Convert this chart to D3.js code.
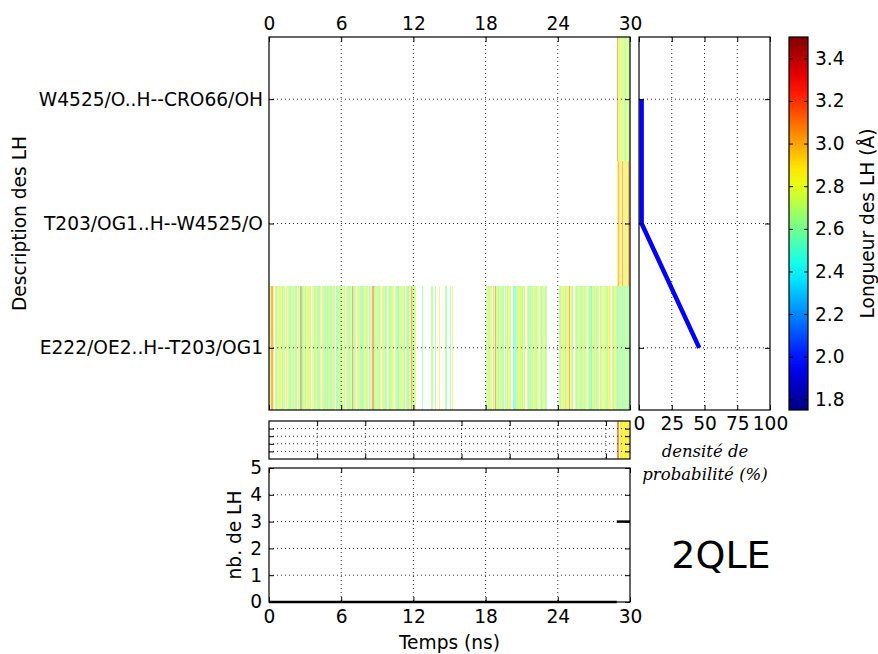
<!DOCTYPE html>
<html><head><meta charset="utf-8">
<script src="https://cdn.jsdelivr.net/npm/d3@7"></script>
<style>body{margin:0;background:#fff}</style>
</head><body>
<svg id="c" width="878" height="654" xmlns="http://www.w3.org/2000/svg"></svg>
<script>
// ---------------- data ----------------
const hbondLabels = ["W4525/O..H--CRO66/OH", "T203/OG1..H--W4525/O", "E222/OE2..H--T203/OG1"]; // top to bottom
const timeTicks = [0, 6, 12, 18, 24, 30];
const stripTimeTicks = [4, 8, 12, 16, 20, 24, 28];
const stripRowTicks = [1, 2, 3, 4];
const countTicks = [0, 1, 2, 3, 4, 5];
const densityTicks = [0, 25, 50, 75, 100];
const colorTicks = [1.8, 2.0, 2.2, 2.4, 2.6, 2.8, 3.0, 3.2, 3.4];
const colorDomain = [1.75, 3.5];
const frameStep = 0.1; // ns per frame
// letter code -> H-bond length (Å)
const lengthCodes = {m: 2.55, g: 2.6, l: 2.68, y: 2.78, Y: 2.88, o: 3.1};
// E222 row, one string per ns (10 frames each); "." = no H-bond
const e222Frames = [
  "lyoY.lgylY","ygl.Yylgyl","lYg.lyogly","gylYl.yglY","lgy.Ylgyml",
  "yglYl.gylg","lyg.lYglyo","gl.ylYgmly","Yl.gyloglY","lgy.Ylgl.y",
  "glYy.lgmyl","ylg.Yglyog","lY.....g..",".....l..g.",".Y....lg..",
  "g.y.......","..........","..........","lyglY.gyol","gYlyg.lYgy",
  "l..mmlgYly","gyl.Yglmly","Ylgy.lglyg","l.........",".lgYlyglYo",
  "ylg.Yglylg","lYgy.lgmlY","gylY.glyYl","lgYy.lgYlm","lglmlgllml"
];
const lateStartFrame = 289;
const t203Frames = "YoYYoYlYYoY";
const w4525Frames = "oYlylylgyll";
const stripFrames = "oo.YYyYYYY.";
const densityValues = [2, 2, 46]; // % for hbondLabels order
const countSegments = [[0, 28.9, 0], [28.9, 30, 3]]; // [t start, t end, nb]

// ---------------- helpers ----------------
const FS = 18.6;
const svg = d3.select("#c");
function jet(v) {
  const x = Math.max(0, Math.min(1, (v - colorDomain[0]) / (colorDomain[1] - colorDomain[0])));
  const c = f => Math.round(255 * Math.max(0, Math.min(1, f)));
  return `rgb(${c(1.5 - Math.abs(4 * x - 3))},${c(1.5 - Math.abs(4 * x - 2))},${c(1.5 - Math.abs(4 * x - 1))})`;
}
function styleAxis(g) {
  g.select(".domain").remove();
  g.attr("font-family", "DejaVu Sans").attr("font-size", FS);
  g.selectAll("line").attr("stroke", "#000").attr("stroke-width", 1);
  g.selectAll("text").attr("fill", "#000");
  return g;
}
function addAxis(axis, tx, ty) {
  return styleAxis(svg.append("g").attr("transform", `translate(${tx},${ty})`).call(axis));
}
function frame(x0, y0, x1, y1) {
  svg.append("rect").attr("x", x0).attr("y", y0).attr("width", x1 - x0).attr("height", y1 - y0)
    .attr("fill", "none").attr("stroke", "#000").attr("stroke-width", 1.2);
}
function vgrid(scale, vals, y0, y1) {
  svg.append("g").selectAll("line").data(vals).join("line")
    .attr("x1", d => scale(d)).attr("x2", d => scale(d)).attr("y1", y0).attr("y2", y1)
    .attr("stroke", "#333").attr("stroke-width", 1).attr("stroke-dasharray", "1,3");
}
function hgrid(scale, vals, x0, x1) {
  svg.append("g").selectAll("line").data(vals).join("line")
    .attr("y1", d => scale(d)).attr("y2", d => scale(d)).attr("x1", x0).attr("x2", x1)
    .attr("stroke", "#333").attr("stroke-width", 1).attr("stroke-dasharray", "1,3");
}

// ---------------- main heatmap ----------------
const L = 269, R = 630, T = 37, B = 410;
const x = d3.scaleLinear([0, 30], [L, R]);
const yBand = d3.scaleBand(hbondLabels, [T, B]);
const yPt = d3.scalePoint(hbondLabels, [T, B]).padding(0.5);
const frameW = x(frameStep) - x(0);

function stripes(codes, start, y0, h, op) {
  const data = codes.split("").map((c, i) => ({c, i: start + i})).filter(d => d.c !== ".");
  svg.append("g").selectAll("rect").data(data).join("rect")
    .attr("x", d => x(d.i * frameStep)).attr("width", frameW + 0.01)
    .attr("y", y0).attr("height", h)
    .attr("fill", d => jet(lengthCodes[d.c])).attr("fill-opacity", op)
    .attr("shape-rendering", "crispEdges");
}
stripes(e222Frames.join(""), 0, yBand(hbondLabels[2]), yBand.bandwidth(), 0.55);
stripes(t203Frames, lateStartFrame, yBand(hbondLabels[1]), yBand.bandwidth(), 0.5);
stripes(w4525Frames, lateStartFrame, yBand(hbondLabels[0]), yBand.bandwidth(), 0.55);

vgrid(x, timeTicks.slice(1, -1), T, B);
hgrid(yPt, hbondLabels, L, R);
addAxis(d3.axisTop(x).tickValues(timeTicks).tickSize(-5).tickPadding(7), 0, T);
addAxis(d3.axisBottom(x).tickValues(timeTicks).tickSize(-5).tickFormat(""), 0, B);
addAxis(d3.axisLeft(yPt).tickSize(-5).tickPadding(6), L, 0);
addAxis(d3.axisRight(yPt).tickSize(-5).tickFormat(""), R, 0);
frame(L, T, R, B);
svg.append("text").attr("transform", `translate(26,${(T + B) / 2}) rotate(-90)`)
  .attr("text-anchor", "middle").attr("font-family", "DejaVu Sans").attr("font-size", FS)
  .text("Description des LH");

// ---------------- density panel ----------------
const DL = 639, DR = 770;
const xd = d3.scaleLinear([0, 100], [DL, DR]);
vgrid(xd, densityTicks.slice(1, -1), T, B);
hgrid(yPt, hbondLabels, DL, DR);
svg.append("path")
  .datum(hbondLabels.map((h, i) => [xd(densityValues[i]), yPt(h)]))
  .attr("d", d3.line()).attr("fill", "none").attr("stroke", "#0000ff").attr("stroke-width", 4.5);
addAxis(d3.axisBottom(xd).tickValues(densityTicks).tickSize(-5).tickPadding(7), 0, B);
addAxis(d3.axisTop(xd).tickValues(densityTicks).tickSize(-5).tickFormat(""), 0, T);
addAxis(d3.axisLeft(yPt).tickSize(-5).tickFormat(""), DL, 0);
addAxis(d3.axisRight(yPt).tickSize(-5).tickFormat(""), DR, 0);
frame(DL, T, DR, B);
const itl = svg.append("text").attr("text-anchor", "middle").attr("font-family", "DejaVu Serif")
  .attr("font-style", "italic").attr("font-size", 16.5);
itl.append("tspan").attr("x", 705).attr("y", 457).text("densité de");
itl.append("tspan").attr("x", 705).attr("y", 480).text("probabilité (%)");

// ---------------- colorbar ----------------
const CL = 789, CR = 808;
const yc = d3.scaleLinear(colorDomain, [B, T]);
const grad = svg.append("defs").append("linearGradient").attr("id", "jet")
  .attr("x1", 0).attr("y1", 1).attr("x2", 0).attr("y2", 0);
d3.range(0, 1.0001, 0.05).forEach(f => {
  grad.append("stop").attr("offset", f).attr("stop-color", jet(colorDomain[0] + f * (colorDomain[1] - colorDomain[0])));
});
svg.append("rect").attr("x", CL).attr("y", T).attr("width", CR - CL).attr("height", B - T).attr("fill", "url(#jet)");
addAxis(d3.axisRight(yc).tickValues(colorTicks).tickSize(-4).tickPadding(7).tickFormat(d3.format(".1f")), CR, 0);
addAxis(d3.axisLeft(yc).tickValues(colorTicks).tickSize(-4).tickFormat(""), CL, 0);
frame(CL, T, CR, B);
svg.append("text").attr("transform", `translate(874,${(T + B) / 2}) rotate(-90)`)
  .attr("text-anchor", "middle").attr("font-family", "DejaVu Sans").attr("font-size", FS)
  .text("Longueur des LH (Å)");

// ---------------- strip ----------------
const ST = 421, SB = 459;
const ys = d3.scaleLinear([0, 5], [SB, ST]);
stripes(stripFrames, lateStartFrame, ST, SB - ST, 0.75);
vgrid(x, stripTimeTicks, ST, SB);
hgrid(ys, stripRowTicks, L, R);
addAxis(d3.axisTop(x).tickValues(stripTimeTicks).tickSize(-5).tickFormat(""), 0, ST);
addAxis(d3.axisBottom(x).tickValues(stripTimeTicks).tickSize(-5).tickFormat(""), 0, SB);
addAxis(d3.axisLeft(ys).tickValues(stripRowTicks).tickSize(-5).tickFormat(""), L, 0);
addAxis(d3.axisRight(ys).tickValues(stripRowTicks).tickSize(-5).tickFormat(""), R, 0);
frame(L, ST, R, SB);

// ---------------- count panel ----------------
const CT = 468, CB = 602;
const yn = d3.scaleLinear([0, 5], [CB, CT]);
vgrid(x, timeTicks.slice(1, -1), CT, CB);
hgrid(yn, countTicks.slice(1, -1), L, R);
svg.append("g").selectAll("line").data(countSegments).join("line")
  .attr("x1", d => x(d[0])).attr("x2", d => x(d[1]))
  .attr("y1", d => yn(d[2])).attr("y2", d => yn(d[2]))
  .attr("stroke", "#000").attr("stroke-width", 2.5);
addAxis(d3.axisBottom(x).tickValues(timeTicks).tickSize(-5).tickPadding(8), 0, CB);
addAxis(d3.axisTop(x).tickValues(timeTicks).tickSize(-5).tickFormat(""), 0, CT);
addAxis(d3.axisLeft(yn).tickValues(countTicks).tickSize(-5).tickPadding(7).tickFormat(d3.format("d")), L, 0);
addAxis(d3.axisRight(yn).tickValues(countTicks).tickSize(-5).tickFormat(""), R, 0);
frame(L, CT, R, CB);
svg.append("text").attr("x", (L + R) / 2).attr("y", 649).attr("text-anchor", "middle")
  .attr("font-family", "DejaVu Sans").attr("font-size", FS).text("Temps (ns)");
svg.append("text").attr("transform", `translate(241,${(CT + CB) / 2}) rotate(-90)`)
  .attr("text-anchor", "middle").attr("font-family", "DejaVu Sans").attr("font-size", FS)
  .text("nb. de LH");
svg.append("text").attr("x", 721).attr("y", 568).attr("text-anchor", "middle")
  .attr("font-family", "DejaVu Sans").attr("font-size", 38).text("2QLE");
</script>
</body></html>
